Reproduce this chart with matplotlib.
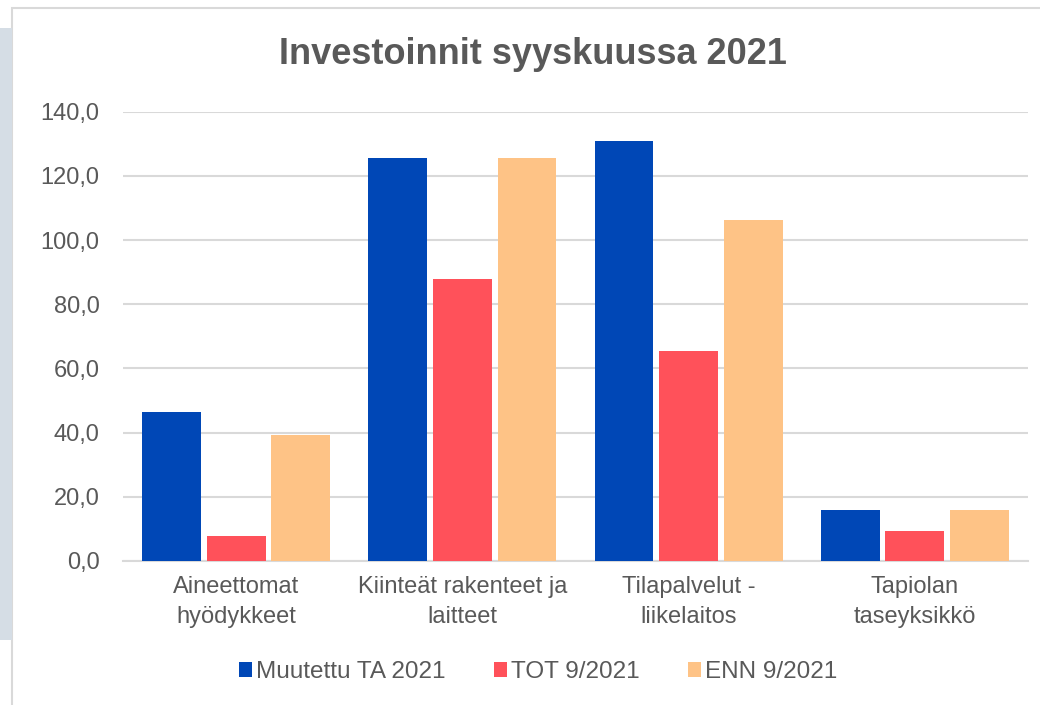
import numpy as np
import matplotlib.pyplot as plt
from matplotlib.patches import Rectangle

plt.rcParams['font.family'] = ['Liberation Sans', 'DejaVu Sans']

categories = ['Aineettomat\nhyödykkeet', 'Kiinteät rakenteet ja\nlaitteet',
              'Tilapalvelut -\nliikelaitos', 'Tapiolan\ntaseyksikkö']
series = ['Muutettu TA 2021', 'TOT 9/2021', 'ENN 9/2021']
muutettu_ta = [46.3, 125.7, 131.0, 15.8]
tot = [7.9, 87.8, 65.3, 9.2]
enn = [39.2, 125.7, 106.1, 15.8]
colors = ['#0047b6', '#ff515a', '#fec386']
yticks = np.arange(0, 141, 20)

fig = plt.figure(figsize=(10.4, 7.05), dpi=100)

# chart frame and bits of the neighbouring slide content
fig.patches.append(Rectangle((12 / 1040, -0.1), 1.1, 1 - 8 / 705 + 0.1,
                             transform=fig.transFigure, fill=False,
                             edgecolor='#d9d9d9', lw=1.5))
fig.patches.append(Rectangle((0, 1 - 640 / 705), 12 / 1040, (640 - 28) / 705,
                             transform=fig.transFigure, facecolor='#d5dde5',
                             edgecolor='none'))

ax = fig.add_axes([123 / 1040, 1 - 561 / 705, (1028 - 123) / 1040, (561 - 111.7) / 705])

x = np.arange(len(categories))
w = 0.26
step = 0.286
for i, (vals, name) in enumerate(zip([muutettu_ta, tot, enn], series)):
    ax.bar(x + (i - 1) * step, vals, w, color=colors[i], label=name, zorder=3)

ax.set_xlim(-0.5, 3.5)
ax.set_ylim(0, 140)
ax.set_yticks(yticks)
ax.set_yticklabels([f'{v:.1f}'.replace('.', ',') for v in yticks])
ax.set_xticks(x)
ax.set_xticklabels(categories, linespacing=1.45)
ax.yaxis.grid(True, color='#d9d9d9', lw=1.5, zorder=0)
ax.tick_params(axis='both', length=0, labelsize=17, colors='#595959')
ax.tick_params(axis='y', pad=17)
ax.tick_params(axis='x', pad=11)
for s in ['top', 'right', 'left']:
    ax.spines[s].set_visible(False)
ax.spines['bottom'].set_color('#d9d9d9')
ax.spines['bottom'].set_linewidth(1.5)

fig.text(533 / 1040, 1 - 55 / 705, 'Investoinnit syyskuussa 2021', ha='center',
         va='center', fontsize=26, fontweight='bold', color='#595959')

leg = fig.legend(loc='center', bbox_to_anchor=(538 / 1040, 1 - 672 / 705), ncol=3,
                 frameon=False, fontsize=17.5, handlelength=0.55, handleheight=0.55,
                 handletextpad=0.15, columnspacing=2.0)
for t in leg.get_texts():
    t.set_color('#595959')

fig.savefig('out.png', dpi=100)
